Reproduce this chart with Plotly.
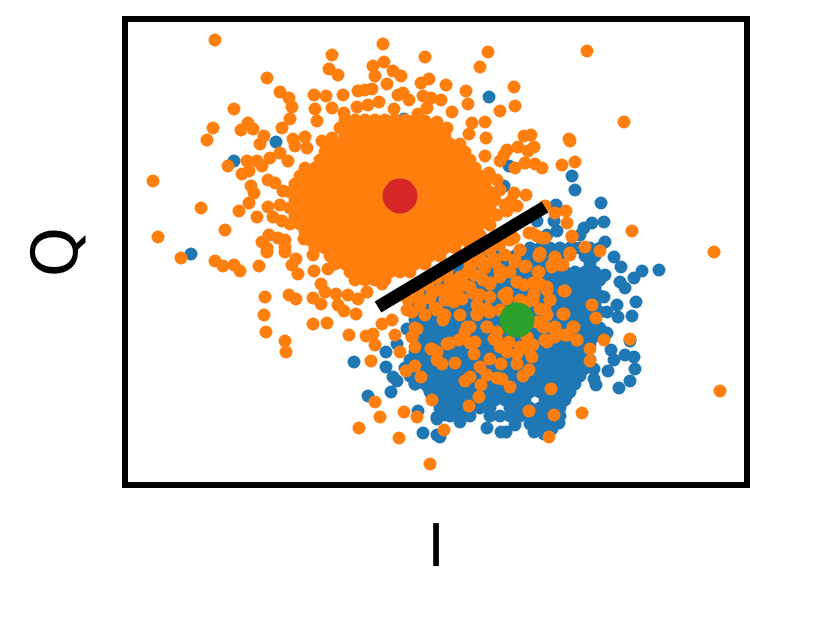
import plotly.graph_objects as go

# values, (I, Q) in arbitrary units
blue_iq = [
    (489,97),(404,119),(276,142),(234,161),(191,254),(509,166),(504,186),(572,176),(575,190),(601,203),
    (604,222),(556,205),(592,223),(584,228),(580,235),(605,242),(557,231),(547,235),(554,221),(537,221),(574,248),
    (354,362),(368,396),(391,392),(386,352),(386,367),(393,377),(397,381),(415,384),(428,387),(418,411),
    (423,433),(437,417),(437,435),(407,329),(397,344),(430,369),(433,332),(428,319),
    (659,270),(642,271),(634,278),(625,288),(621,267),(620,282),(614,257),(605,275),(636,302),(617,305),
    (604,297),(632,316),(618,317),(607,312),(607,333),(630,341),(611,350),(625,355),(634,357),(614,360),
    (635,369),(608,371),(594,369),(594,379),(596,385),(630,381),(619,388),(584,369),(575,379),(567,389),
    (567,395),(559,423),(552,429),(544,434),(534,432),(506,432),(501,432),(515,425),(487,428),(460,422),
    (464,415),(445,415),(440,437),(437,419),(444,402),
]

# dense part of the blue cloud, listed row by row: (Q, [I values])
blue_rows = [
    (248, [530,540,550,560,570,580,590,600]),
    (256, [485,495,505,515,525,535,545,555,565,585,595]),
    (264, [450,460,470,480,490,500,510,520,530,540,550,560,590]),
    (272, [445,455,465,475,485,495,505,515,525,535,545,555,565,575,585,595]),
    (280, [430,440,450,460,470,480,490,500,510,520,530,540,550,560,570,580,590,600]),
    (288, [425,435,445,455,465,475,485,495,505,515,525,535,545,555,565,575,585,595]),
    (296, [420,430,440,450,460,470,480,490,500,510,520,530,540,550,560,570,580,590,600]),
    (304, [415,425,435,445,455,465,475,485,495,505,515,525,535,545,555,565,575,585,595]),
    (312, [420,430,440,450,460,470,480,490,500,510,520,530,540,550,560,570,580,590,600]),
    (320, [415,425,435,445,455,465,475,485,495,505,515,525,535,545,555,565,575,585,595]),
    (328, [420,430,440,450,460,470,480,490,500,510,520,530,540,550,560,570,580,590,600]),
    (336, [415,425,435,445,455,465,475,485,495,505,515,525,535,545,555,565,575,585,595]),
    (344, [420,430,440,450,460,470,480,490,500,510,520,530,540,550,560,570,580,590]),
    (352, [415,425,435,445,455,465,475,485,495,505,515,525,535,545,555,565,575,585]),
    (360, [410,420,430,440,450,460,470,480,490,500,510,520,530,540,550,560,570,580,590]),
    (368, [405,415,425,435,445,455,465,475,485,495,505,515,525,535,545,555,565,575,585]),
    (376, [410,420,430,440,450,460,470,480,490,500,510,520,530,540,550,560,570,580]),
    (384, [415,425,435,445,455,465,475,485,495,505,515,525,535,545,555,565,575]),
    (392, [430,440,450,460,470,480,490,500,510,520,530,540,550,560,570]),
    (400, [435,445,455,465,475,485,495,505,515,525,545,555,565]),
    (408, [440,450,460,470,480,490,510,520,530,540,550,560]),
    (416, [450,460,470,490,500,510,520,530,540,550,560]),
    (424, [530,540,550]),
]

orange_iq = [
    (215,40),(267,78),(332,55),(329,69),(338,75),(383,44),(425,57),(373,66),(384,62),(393,71),(401,76),(375,76),
    (387,84),(421,83),(429,79),(280,92),(289,98),(292,107),(290,119),(234,109),(314,95),(326,96),(343,95),(315,109),
    (317,121),(332,108),(358,91),(365,90),(372,89),(398,95),(403,93),(409,100),(423,96),(431,98),(394,109),(379,102),
    (368,105),(357,107),(344,113),(418,114),(427,108),(425,121),(437,122),(213,128),(207,140),(248,123),(241,130),
    (253,129),(264,136),(260,144),(282,128),(293,139),(305,137),(295,146),(307,148),(322,141),(332,138),(228,166),
    (247,161),(257,161),(242,174),(249,171),(262,166),(270,158),(280,153),(288,161),(268,180),(251,186),(254,193),
    (275,183),(283,191),(153,181),(201,208),(225,230),(158,237),(239,211),(249,203),(257,217),(268,207),(280,205),
    (273,217),(282,221),(262,242),(269,235),(278,238),(285,240),(285,247),(267,248),(304,239),
    (181,258),(215,261),(223,266),(234,265),(240,271),(259,266),(267,252),(285,252),(296,259),(292,265),(298,274),
    (314,271),(313,255),(321,284),(328,269),(265,297),(264,315),(266,332),(285,341),(286,352),(289,295),(296,299),
    (313,298),(321,304),(325,292),(336,294),(338,305),(344,311),(356,314),(348,295),(358,299),(367,292),(382,284),
    (313,324),(327,323),(349,335),(366,336),(373,334),(375,345),(395,335),(382,324),(392,320),(400,352),(371,361),
    (406,371),(415,366),(421,377),(375,402),(380,417),(404,412),(417,417),(359,428),(399,438),(430,464),(432,400),
    (417,329),(412,337),(415,347),(431,349),(437,360),
    (587,51),(488,52),(480,67),(446,85),(466,91),(514,87),(441,100),(468,104),(515,106),(500,111),(452,112),(624,122),
    (485,122),(472,123),(447,128),(486,138),(469,134),(524,136),(531,135),(569,139),(570,141),(518,147),(507,150),
    (534,147),(528,151),(504,155),(500,161),(485,156),(515,168),(525,163),(535,164),(542,168),(562,165),(575,162),
    (489,173),(497,180),(514,193),(526,195),(511,201),(517,206),(507,211),(545,206),(555,213),(566,211),(567,223),
    (632,231),(572,236),(585,247),(600,251),(714,252),(545,238),(537,236),(529,233),(514,238),(520,250),(570,253),(540,253),
    (720,391),(582,413),(549,437),(554,415),(529,411),(551,389),(444,430),(469,406),(479,397),(481,385),(465,381),
    (470,377),(510,387),(502,379),(497,378),(487,375),(480,367),(523,376),(529,370),(517,364),(501,364),(490,359),
    (474,354),(455,363),(442,364),(437,352),(447,344),(459,340),(475,342),(532,357),(517,354),(527,349),(500,347),
    (494,339),(545,340),(555,337),(567,335),(577,340),(574,327),(555,327),(545,327),(547,315),(564,314),(596,318),
    (592,305),(565,291),(550,300),(547,287),(540,284),(604,340),(630,339),(590,349),(590,361),(539,272),(552,265),
    (561,265),(555,257),(539,256),(526,266),(515,262),(510,272),(500,270),(490,284),(517,282),(524,285),(534,294),
    (504,295),(480,295),(470,287),(457,285),(447,295),(454,302),(445,315),(437,310),(460,315),(477,314),(489,312),
    (487,327),(470,327),(465,332),(497,332),(509,342),(537,322),(540,309),(527,302),(494,259),(480,262),(467,259),
    (487,309),(507,299),(477,305),(462,299),(527,337),(507,352),
    (408,300),(418,292),(428,285),(437,278),(447,272),(420,305),(430,298),(440,290),(450,283),(460,277),(412,312),
    (425,315),(435,308),(445,300),(455,292),(465,285),(475,275),(485,268),(495,262),(505,255),(470,268),(480,258),
    (490,250),(500,245),(510,240),(500,190),(495,200),(505,205),(497,215),(490,225),(480,235),(470,245),
    (572,237),(542,238),(532,233),(520,250),(515,260),(525,267),(540,255),(555,258),(570,255),(563,265),(552,267),
    (538,272),(500,272),(490,283),(517,282),(533,283),(547,290),(550,300),(564,291),(563,314),(545,310),(543,327),
    (555,330),(565,335),(573,327),(577,340),(547,342),(533,345),(520,347),(497,340),(487,327),(477,315),(490,312),
    (467,327),(470,343),(450,343),(432,349),(415,328),(412,337),(443,320),(437,310),(448,300),(457,293),(473,293),
    (490,297),(507,293),(500,277),(485,263),(467,273),(450,280),(433,292),(420,300),(407,310),(483,280),(520,300),
    (533,300),(500,310),
]

# solid core of the orange cloud, row by row: (Q, [I values])
orange_rows = [
    (120, [345,355,365,375,385,395,405,415]),
    (128, [340,350,360,370,380,390,400,410,420,430,440]),
    (136, [345,355,365,375,385,395,405,415,425,435,445]),
    (144, [330,340,350,360,370,380,390,400,410,420,430,440,450,460]),
    (152, [325,335,345,355,365,375,385,395,405,415,425,435,445,455,465]),
    (160, [320,330,340,350,360,370,380,390,400,410,420,430,440,450,460,470]),
    (168, [305,315,325,335,345,355,365,375,385,395,405,415,425,435,445,455,465,475]),
    (176, [300,310,320,330,340,350,360,370,380,390,400,410,420,430,440,450,460,470,480,490]),
    (184, [295,305,315,325,335,345,355,365,375,385,395,405,415,425,435,445,455,465,475,485]),
    (192, [290,300,310,320,330,340,350,360,370,380,390,400,410,420,430,440,450,460,470,480,490]),
    (200, [295,305,315,325,335,345,355,365,375,385,395,405,415,425,435,445,455,465,475,485]),
    (208, [290,300,310,320,330,340,350,360,370,380,390,400,410,420,430,440,450,460,470,480,490]),
    (216, [295,305,315,325,335,345,355,365,375,385,395,405,415,425,435,445,455,465,475,485]),
    (224, [290,300,310,320,330,340,350,360,370,380,390,400,410,420,430,440,450,460,470,480]),
    (232, [305,315,325,335,345,355,365,375,385,395,405,415,425,435,445,455,465,475]),
    (240, [310,320,330,340,350,360,370,380,390,400,410,420,430,440,450,460,470]),
    (248, [315,325,335,345,355,365,375,385,395,405,415,425,435,445,455]),
    (256, [330,340,350,360,370,380,390,400,410,420,430,440]),
    (264, [335,345,355,365,375,385,395,405,415,425]),
    (272, [350,360,370,380,390,400,410]),
    (280, [355,365,375,385]),
]

center_blue = (517, 320)
center_orange = (400, 196)
threshold_i = [378, 545]
threshold_q = [307, 207]

blue_x = [p[0] for p in blue_iq] + [i for q, row in blue_rows for i in row]
blue_y = [p[1] for p in blue_iq] + [q for q, row in blue_rows for i in row]
orange_x = [p[0] for p in orange_iq] + [i for q, row in orange_rows for i in row]
orange_y = [p[1] for p in orange_iq] + [q for q, row in orange_rows for i in row]

fig = go.Figure()
fig.add_trace(go.Scatter(x=blue_x, y=blue_y, mode="markers", marker=dict(color="#1f77b4", size=13)))
fig.add_trace(go.Scatter(x=orange_x, y=orange_y, mode="markers", marker=dict(color="#ff7f0e", size=13)))
fig.add_trace(go.Scatter(x=threshold_i, y=threshold_q, mode="lines", line=dict(color="black", width=13)))
fig.add_trace(go.Scatter(x=[center_orange[0]], y=[center_orange[1]], mode="markers",
                         marker=dict(color="#d62728", size=35)))
fig.add_trace(go.Scatter(x=[center_blue[0]], y=[center_blue[1]], mode="markers",
                         marker=dict(color="#2ca02c", size=35)))

axis_style = dict(showticklabels=False, ticks="", showgrid=False, zeroline=False, showline=True,
                  linecolor="black", linewidth=6, mirror=True)
fig.update_xaxes(range=[128, 744], title=dict(text="I", font=dict(size=58, color="black"), standoff=40), **axis_style)
fig.update_yaxes(range=[482, 22], title=dict(text="Q", font=dict(size=64, color="black"), standoff=26), **axis_style)
fig.update_layout(width=831, height=623, showlegend=False, plot_bgcolor="white", paper_bgcolor="white",
                  font=dict(family="DejaVu Sans"), margin=dict(l=128, r=87, t=22, b=141, autoexpand=False))

fig.write_html("out.html", config={"displayModeBar": False}, post_script="document.body.style.margin='0';")
